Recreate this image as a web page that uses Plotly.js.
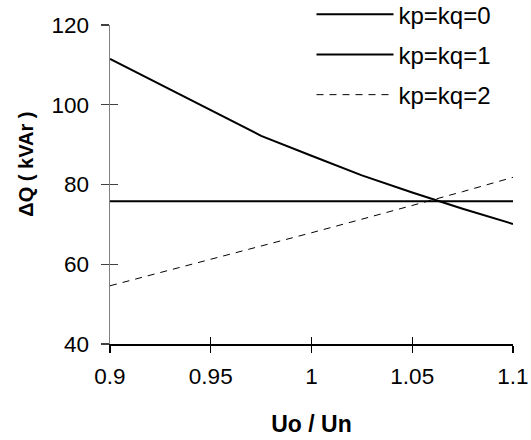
<!DOCTYPE html>
<html><head><meta charset="utf-8">
<script src="https://cdn.plot.ly/plotly-3.0.1.min.js"></script>
<style>html,body{margin:0;padding:0;background:#fff}#chart{width:531px;height:440px}</style>
</head><body><div id="chart"></div>
<script>
const uRatio = [0.9, 0.925, 0.95, 0.975, 1.0, 1.025, 1.05, 1.075, 1.1];
const dq_k0 = [111.5, 105.0, 98.5, 92.2, 87.2, 82.3, 78.0, 73.9, 70.1];
const dq_k1 = [75.8, 75.8, 75.8, 75.8, 75.8, 75.8, 75.8, 75.8, 75.8];
const dq_k2 = [54.6, 57.9, 61.2, 64.6, 67.9, 71.3, 74.7, 78.2, 81.8];
const seriesNames = ['kp=kq=0', 'kp=kq=1', 'kp=kq=2'];
const xTicks = [0.9, 0.95, 1, 1.05, 1.1];
const xTickText = ['0.9', '0.95', '1', '1.05', '1.1'];
const yTicks = [40, 60, 80, 100, 120];

const FONT = 'Arial, "Liberation Sans", sans-serif';

const traces = [
  {x: uRatio, y: dq_k0, name: seriesNames[0], mode: 'lines', legendgroup: 'a',
   line: {color: '#000', width: 2}},
  {x: uRatio, y: dq_k1, name: seriesNames[1], mode: 'lines', legendgroup: 'b',
   line: {color: '#000', width: 2}},
  {x: uRatio, y: dq_k2, name: seriesNames[2], mode: 'lines', legendgroup: 'c',
   line: {color: '#000', width: 1, dash: '7px,6px'}},
  // invisible helper trace so the overlay axes (inner half of the crossing ticks) are drawn
  {x: uRatio, y: dq_k1, xaxis: 'x2', yaxis: 'y2', mode: 'lines', showlegend: false,
   hoverinfo: 'skip', line: {width: 0}, opacity: 0}
];

const layout = {
  width: 531, height: 440,
  margin: {l: 110, r: 18, t: 25, b: 96, autoexpand: false},
  paper_bgcolor: '#fff', plot_bgcolor: '#fff',
  font: {family: FONT, size: 22, color: '#000'},
  showlegend: true,
  legend: {x: 0.5, y: 1.103, xanchor: 'left', yanchor: 'top', bgcolor: 'rgba(0,0,0,0)',
           font: {family: FONT, size: 24, color: '#000'}, itemwidth: 77, tracegroupgap: 6},
  xaxis: {range: [0.9, 1.1], tickvals: xTicks, ticktext: xTickText, showgrid: false, zeroline: false,
          showline: true, linecolor: '#000', linewidth: 1.5, ticks: 'outside', ticklen: 7,
          tickcolor: '#000', tickwidth: 1.2, ticklabelstandoff: 4, tickfont: {family: FONT, size: 22.5},
          title: {text: '<b>Uo / Un</b>', font: {family: FONT, size: 23}, standoff: 28}},
  yaxis: {range: [40, 120], tickvals: yTicks, showgrid: false, zeroline: false,
          showline: true, linecolor: '#808080', linewidth: 1.5, ticks: 'outside', ticklen: 8,
          tickcolor: '#404040', tickwidth: 1.2, ticklabelstandoff: 7, tickfont: {family: FONT, size: 22.5},
          title: {text: ''}},
  xaxis2: {overlaying: 'x', range: [0.9, 1.1], tickvals: xTicks, showticklabels: false, showgrid: false,
           zeroline: false, showline: false, ticks: 'inside', ticklen: 7, tickcolor: '#000', tickwidth: 1.2, anchor: 'y2'},
  yaxis2: {overlaying: 'y', range: [40, 120], tickvals: yTicks, showticklabels: false, showgrid: false,
           zeroline: false, showline: false, ticks: 'inside', ticklen: 8, tickcolor: '#404040', tickwidth: 1.2, side: 'left', anchor: 'x2'},
  annotations: [{text: '<b>ΔQ ( kVAr )</b>', textangle: -90, xref: 'paper', yref: 'paper',
                 x: -0.207, y: 0.564, xanchor: 'center', yanchor: 'middle', showarrow: false,
                 font: {family: FONT, size: 20, color: '#000'}}]
};

Plotly.newPlot('chart', traces, layout, {displayModeBar: false, staticPlot: true});
</script></body></html>
